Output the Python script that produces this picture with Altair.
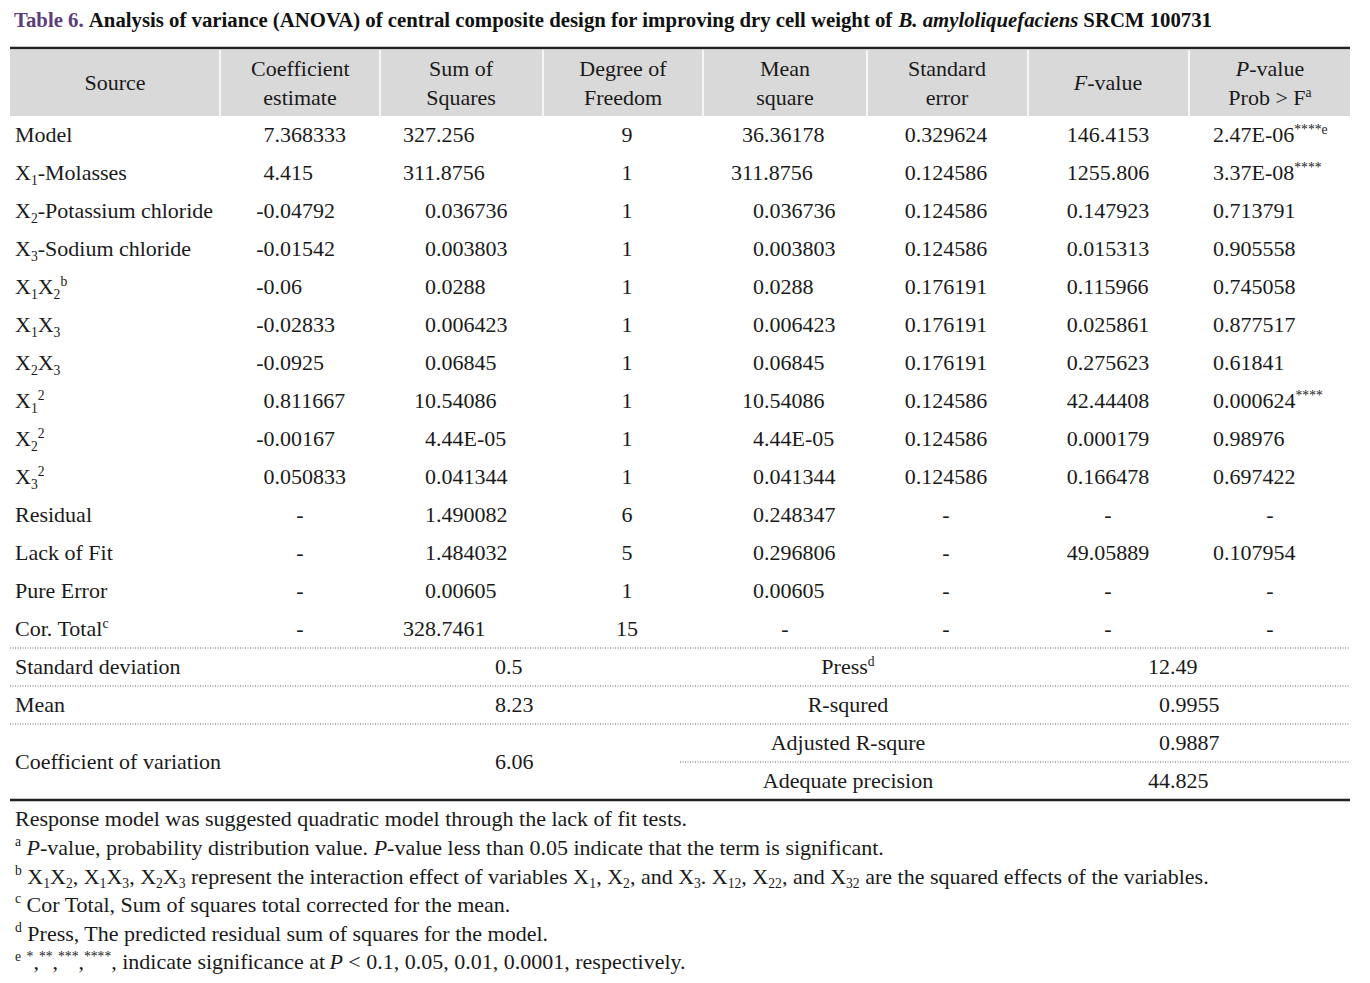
import altair as alt
import pandas as pd

# ---------------- data ----------------
title_parts = [("Table 6.", "b", "#5C3D7A"),
               (" Analysis of variance (ANOVA) of central composite design for improving dry cell weight of ", "b", "#111111"),
               ("B. amyloliquefaciens", "bi", "#111111"),
               (" SRCM 100731", "b", "#111111")]

headers = [["Source"], ["Coefficient", "estimate"], ["Sum of", "Squares"], ["Degree of", "Freedom"],
           ["Mean", "square"], ["Standard", "error"], ["~F~-value"], ["~P~-value", "Prob > F^{a}"]]

sources = ["Model", "X_{1}-Molasses", "X_{2}-Potassium chloride", "X_{3}-Sodium chloride",
           "X_{1}X_{2}^{b}", "X_{1}X_{3}", "X_{2}X_{3}", "X_{1}^{2}", "X_{2}^{2}", "X_{3}^{2}",
           "Residual", "Lack of Fit", "Pure Error", "Cor. Total^{c}"]
coef = ["7.368333", "4.415", "-0.04792", "-0.01542", "-0.06", "-0.02833", "-0.0925", "0.811667",
        "-0.00167", "0.050833", "-", "-", "-", "-"]
sum_sq = ["327.256", "311.8756", "0.036736", "0.003803", "0.0288", "0.006423", "0.06845", "10.54086",
          "4.44E-05", "0.041344", "1.490082", "1.484032", "0.00605", "328.7461"]
dof = ["9", "1", "1", "1", "1", "1", "1", "1", "1", "1", "6", "5", "1", "15"]
mean_sq = ["36.36178", "311.8756", "0.036736", "0.003803", "0.0288", "0.006423", "0.06845", "10.54086",
           "4.44E-05", "0.041344", "0.248347", "0.296806", "0.00605", "-"]
std_err = ["0.329624", "0.124586", "0.124586", "0.124586", "0.176191", "0.176191", "0.176191",
           "0.124586", "0.124586", "0.124586", "-", "-", "-", "-"]
f_val = ["146.4153", "1255.806", "0.147923", "0.015313", "0.115966", "0.025861", "0.275623",
         "42.44408", "0.000179", "0.166478", "-", "49.05889", "-", "-"]
p_val = ["2.47E-06^{****e}", "3.37E-08^{****}", "0.713791", "0.905558", "0.745058", "0.877517",
         "0.61841", "0.000624^{****}", "0.98976", "0.697422", "-", "0.107954", "-", "-"]

summary_left_labels = ["Standard deviation", "Mean", "Coefficient of variation"]
summary_left_values = ["0.5", "8.23", "6.06"]
summary_right_labels = ["Press^{d}", "R-squred", "Adjusted R-squre", "Adequate precision"]
summary_right_values = ["12.49", "0.9955", "0.9887", "44.825"]

footnotes = [
    "Response model was suggested quadratic model through the lack of fit tests.",
    "^{a} ~P~-value, probability distribution value. ~P~-value less than 0.05 indicate that the term is significant.",
    "^{b} X_{1}X_{2}, X_{1}X_{3}, X_{2}X_{3} represent the interaction effect of variables X_{1}, X_{2}, and X_{3}. X_{12}, X_{22}, and X_{32} are the squared effects of the variables.",
    "^{c} Cor Total, Sum of squares total corrected for the mean.",
    "^{d} Press, The predicted residual sum of squares for the model.",
    "^{e} ^{*},^{**},^{***},^{****}, indicate significance at ~P~ < 0.1, 0.05, 0.01, 0.0001, respectively.",
]

# ---------------- layout ----------------
FONT = "Liberation Serif"
FS = 22
INK = "#1a1a1a"
L, R = 10, 1350
ROW0, STEP = 135, 38
col_sep = [220, 380, 543, 703, 867, 1028, 1189]
head_centers = [115, 300, 461, 623, 785, 947, 1108, 1270]
# (align, anchor, dash-centre)
col_specs = [("left", 15, 115), ("dec", 274.5, 300), ("dec", 436, 461), ("center", 627, 627),
             ("dec", 764, 785), ("center", 946, 946), ("center", 1108, 1108), ("left", 1213, 1270)]
FN_Y0, FN_STEP = 819, 28.6

U = "ABCDEFGHIJKLMNOPQRSTUVWXYZ"
LW = "abcdefghijklmnopqrstuvwxyz"
W = {
    "n": dict(zip(U, [722,667,667,722,611,556,722,722,333,389,722,611,889,722,722,556,722,667,556,611,722,722,944,722,722,611]),
              **dict(zip(LW, [444,500,444,500,444,333,500,500,278,278,500,278,778,500,500,500,500,333,389,278,500,500,722,500,500,444]))),
    "i": dict(zip(U, [611,611,667,722,611,611,722,722,333,444,667,556,833,667,722,611,722,611,500,556,722,611,833,611,556,556]),
              **dict(zip(LW, [500,500,444,500,444,278,500,500,278,278,444,278,722,500,500,500,500,389,389,278,500,444,667,444,444,389]))),
    "b": dict(zip(U, [722,667,722,722,667,611,778,778,389,500,778,667,944,722,778,611,778,722,556,667,722,722,1000,722,722,667]),
              **dict(zip(LW, [500,556,444,556,444,333,500,556,278,333,556,278,833,556,500,556,556,444,389,333,556,500,722,500,500,444]))),
    "bi": dict(zip(U, [667,667,667,722,667,667,722,778,389,500,667,611,889,722,722,611,722,667,556,611,722,667,889,667,611,611]),
               **dict(zip(LW, [500,500,444,500,444,333,500,556,278,278,500,278,778,556,500,500,500,389,389,278,556,444,667,500,444,389]))),
}
PUNCT = {" ": 250, ".": 250, ",": 250, "-": 333, "(": 333, ")": 333, ">": 564, "<": 564, "*": 500}
KERN = {
    "n": {"To": -80, "Ta": -80, "Te": -70, "AV": -135, "VA": -135, "y.": -65, "v.": -65, "w.": -65,
          "r.": -55, "y,": -65, "r,": -40, "fi": -55},
    "i": {},
    "b": {"Ta": -92, "To": -92, "AV": -145, "VA": -135, "fi": -55},
    "bi": {"fa": -15},
}


def cw(ch, st):
    if ch.isdigit():
        return 500
    if ch in PUNCT:
        return PUNCT[ch]
    return W[st].get(ch, 500)


def parse(s, base="n"):
    """markup: _{sub} ^{sup} ~italic~ -> list of (text, pos, style)"""
    segs, buf, i, ital = [], "", 0, False
    def st():
        if base == "b":
            return "bi" if ital else "b"
        return "i" if ital else "n"
    while i < len(s):
        c = s[i]
        if c in "_^" and i + 1 < len(s) and s[i + 1] == "{":
            if buf:
                segs.append((buf, "base", st())); buf = ""
            j = s.index("}", i)
            segs.append((s[i + 2:j], "sub" if c == "_" else "sup", st()))
            i = j + 1
            continue
        if c == "~":
            if buf:
                segs.append((buf, "base", st())); buf = ""
            ital = not ital
            i += 1
            continue
        buf += c
        i += 1
    if buf:
        segs.append((buf, "base", st()))
    return segs


def seg_size(pos, size):
    return size * 0.62 if pos in ("sub", "sup") else size


def seg_w(seg, size):
    t, pos, st = seg
    units = sum(cw(ch, st) for ch in t)
    kt = KERN[st]
    units += sum(kt.get(t[k:k + 2], 0) for k in range(len(t) - 1))
    return units * seg_size(pos, size) / 1000.0


rows = []


def emit(segs, x0, yc, size=FS, color=INK):
    base_y = yc + size * 0.34
    x = x0
    for seg in segs:
        t, pos, st = seg
        sz = seg_size(pos, size)
        w = seg_w(seg, size)
        lead = len(t) - len(t.lstrip(" "))
        txt = t.strip(" ")
        if txt:
            y = base_y + (size * 0.2 if pos == "sub" else (-size * 0.4 if pos == "sup" else 0))
            rows.append(dict(x=x + lead * 250 * sz / 1000.0, y=y, text=txt, size=sz, color=color,
                             fstyle="italic" if st in ("i", "bi") else "normal",
                             fweight="bold" if st in ("b", "bi") else "normal"))
        x += w


def place(markup, align, anchor, yc, size=FS, color=INK, base="n"):
    segs = parse(markup, base)
    total = sum(seg_w(s, size) for s in segs)
    if align == "left":
        x0 = anchor
    elif align == "center":
        x0 = anchor - total / 2
    else:  # decimal alignment
        intpart = markup.split(".")[0] if "." in markup else markup.split("^")[0]
        x0 = anchor - sum(seg_w(s, size) for s in parse(intpart, base))
    emit(segs, x0, yc, size, color)


# title (bold, scaled to span the table width)
title_segs = [(t, "base", st) for t, st, _ in title_parts]
title_em = sum(seg_w(s, 1000) for s in title_segs) / 1000.0
tsize = 1198 / title_em
x = 14
for (t, st, col) in title_parts:
    seg = (t, "base", st)
    emit([seg], x, 20, tsize, col)
    x += seg_w(seg, tsize)

# header
for c, lines in enumerate(headers):
    ys = [83] if len(lines) == 1 else [69, 98]
    for ln, yy in zip(lines, ys):
        place(ln, "center", head_centers[c], yy)

# body
columns = [sources, coef, sum_sq, dof, mean_sq, std_err, f_val, p_val]
for c, vals in enumerate(columns):
    align, anchor, dash_c = col_specs[c]
    for r, v in enumerate(vals):
        yc = ROW0 + r * STEP
        if v == "-":
            place(v, "center", dash_c, yc)
        else:
            place(v, align, anchor, yc)

# summary block
left_y = [667, 705, 762]
for lab, val, yy in zip(summary_left_labels, summary_left_values, left_y):
    place(lab, "left", 15, yy)
    place(val, "dec", 506, yy)
right_y = [667, 705, 743, 781]
for lab, val, yy in zip(summary_right_labels, summary_right_values, right_y):
    place(lab, "center", 848, yy)
    place(val, "dec", 1170, yy)

# footnotes
for k, fn in enumerate(footnotes):
    place(fn, "left", 15, FN_Y0 + k * FN_STEP)

text_df = pd.DataFrame(rows)

rect_df = pd.DataFrame([dict(x=L, x2=R, y=50, y2=116)])
thick_df = pd.DataFrame([dict(x=L, x2=R, y=48), dict(x=L, x2=R, y=800)])
dotted_df = pd.DataFrame([dict(x=L, x2=R, y=648), dict(x=L, x2=R, y=686), dict(x=L, x2=R, y=724),
                          dict(x=680, x2=R, y=762)])
sep_df = pd.DataFrame([dict(x=s, y=50, y2=116) for s in col_sep])

XS = alt.Scale(domain=[8, 1362], nice=False, zero=False)
YS = alt.Scale(domain=[8, 975], nice=False, zero=False, reverse=True)


def X(f="x"):
    return alt.X(f"{f}:Q", scale=XS, axis=None)


def Y(f="y"):
    return alt.Y(f"{f}:Q", scale=YS, axis=None)


band = alt.Chart(rect_df).mark_rect(fill="#D9D9D9").encode(
    x=X(), x2="x2:Q", y=Y(), y2="y2:Q")
seps = alt.Chart(sep_df).mark_rule(color="white", strokeWidth=1.5).encode(
    x=X(), y=Y(), y2="y2:Q")
thick = alt.Chart(thick_df).mark_rule(color="#222222", strokeWidth=2.5).encode(
    x=X(), x2="x2:Q", y=Y())
dotted = alt.Chart(dotted_df).mark_rule(color="#666666", strokeWidth=1, strokeDash=[1, 1.5]).encode(
    x=X(), x2="x2:Q", y=Y())

layers = [band, seps, thick, dotted]
for (fs, fw), sub in text_df.groupby(["fstyle", "fweight"]):
    layers.append(
        alt.Chart(sub.reset_index(drop=True)).mark_text(
            align="left", baseline="alphabetic", font=FONT, fontStyle=fs, fontWeight=fw
        ).encode(
            x=X(), y=Y(), text="text:N",
            size=alt.Size("size:Q", scale=None),
            color=alt.Color("color:N", scale=None),
        )
    )

chart = alt.layer(*layers).properties(
    width=1354, height=967, padding=0,
    autosize=alt.AutoSizeParams(type="none"),
    background="white",
).configure_view(strokeWidth=0)

chart.save("out.html", embed_options={"renderer": "svg", "actions": False})
